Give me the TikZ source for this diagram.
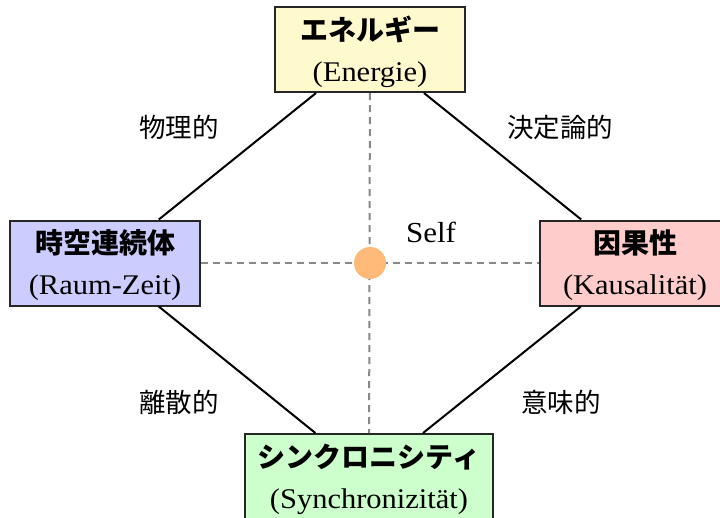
\documentclass[tikz,border=0pt]{standalone}
\usepackage{fontspec}
\setmainfont{Liberation Serif}[FakeStretch=1.07]
\newfontfamily\cjk{Noto Sans CJK JP}
\definecolor{topfill}{RGB}{255,250,205}
\definecolor{leftfill}{RGB}{204,204,255}
\definecolor{rightfill}{RGB}{255,204,204}
\definecolor{botfill}{RGB}{204,255,204}
\definecolor{selffill}{RGB}{255,185,120}
\definecolor{axisgray}{RGB}{136,136,136}
\newcommand{\boxtext}[2]{\raisebox{-31.5pt}[0pt][0pt]{\begin{tabular}[b]{@{}c@{}}{\cjk\bfseries\fontsize{28}{41}\selectfont #1}\\#2\end{tabular}}}
\begin{document}
\begin{tikzpicture}[x=1pt,y=-1pt,
  box/.style={draw=black!85, line width=2pt, minimum width=190pt, minimum height=85pt,
    inner sep=0pt, font=\fontsize{28.5}{41}\selectfont},
  conn/.style={draw=black, line width=2pt},
  axisline/.style={draw=axisgray, dash pattern=on 7pt off 5pt, line width=2pt},
  lab/.style={font=\cjk\fontsize{26.5}{30}\selectfont, inner sep=0pt},
  selfdot/.style={circle, fill=selffill, minimum size=32pt, inner sep=0pt}
]
\useasboundingbox (0,0) rectangle (720,517);
\node[box, fill=topfill] (top) at (370,49.5) {\boxtext{エネルギー}{(Energie)}};
\node[box, fill=leftfill] (left) at (105,263) {\boxtext{時空連続体}{(Raum-Zeit)}};
\node[box, fill=rightfill] (right) at (635,263) {\boxtext{因果性}{(Kausalität)}};
\node[box, fill=botfill, minimum width=248pt] (bot) at (369,476.5) {\boxtext{シンクロニシティ}{(Synchronizität)}};

\draw[axisline] (top) -- (bot);
\draw[axisline] (left) -- (right);
\draw[conn] (top) -- (left);
\draw[conn] (top) -- (right);
\draw[conn] (left) -- (bot);
\draw[conn] (right) -- (bot);

\node[selfdot] (self) at (370,263) {};
\node[font=\fontsize{29}{32}\selectfont, inner sep=0pt] (selflab) at (431,232) {Self};

\node[lab] (l1) at (179,127) {物理的};
\node[lab] (l2) at (560,127) {決定論的};
\node[lab] (l3) at (179,402) {離散的};
\node[lab] (l4) at (561,402) {意味的};
\end{tikzpicture}
\end{document}
